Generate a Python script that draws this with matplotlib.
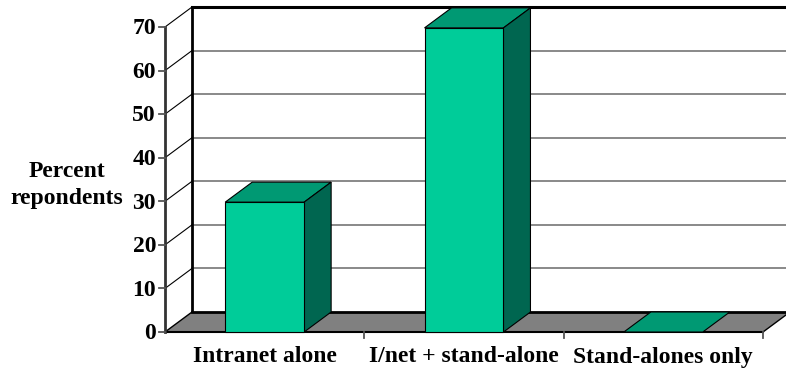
import matplotlib
matplotlib.use("Agg")
import matplotlib.pyplot as plt
from matplotlib.patches import Polygon

categories = ["Intranet alone", "I/net + stand-alone", "Stand-alones only"]
values = [29.8, 69.8, 0.0]
y_ticks = [0, 10, 20, 30, 40, 50, 60, 70]
y_label = "Percent\nrepondents"

# style / geometry
W, H = 786, 375
x0_px, xunit_px = 165.0, 199.33
y0_px, yunit_px = 332.0, 4.357
DX = 27 / xunit_px      # depth offset in x data units
DY = 20 / yunit_px      # depth offset in y data units
bar_half = 0.198
front_c = "#00CC99"
top_c = "#009973"
side_c = "#006650"
floor_c = "#808080"
grid_c = "#808080"
font = ["Liberation Serif", "DejaVu Serif"]
fs = 17

fig = plt.figure(figsize=(W / 100, H / 100), dpi=100)
ax = fig.add_axes([0, 0, 1, 1])
ax.set_xlim(-x0_px / xunit_px, (W - x0_px) / xunit_px)
ax.set_ylim((y0_px - H) / yunit_px, y0_px / yunit_px)
ax.axis("off")

ymax = max(y_ticks)
n = len(categories)
xr = n + DX

# back wall gridlines
for t in y_ticks[1:-1]:
    ax.plot([DX, xr], [t + DY, t + DY], color=grid_c, lw=1.3, zorder=1)
ax.plot([DX, xr], [ymax + DY, ymax + DY], color="black", lw=2.2, zorder=1)
ax.plot([DX, DX], [DY, ymax + DY], color="black", lw=2.0, zorder=1)

# side wall diagonals
for t in y_ticks[1:]:
    ax.plot([0, DX], [t, t + DY], color="black", lw=0.8, zorder=1)

# floor
floor = Polygon([(0, 0), (n, 0), (n + DX, DY), (DX, DY)], closed=True,
                facecolor=floor_c, edgecolor="none", zorder=2)
ax.add_patch(floor)
ax.plot([0, DX], [0, DY], color="black", lw=1.0, zorder=2)
ax.plot([DX, n + DX], [DY, DY], color="black", lw=2.0, zorder=2)
ax.plot([0, n], [0, 0], color="black", lw=1.5, zorder=2)
ax.plot([n, n + DX], [0, DY], color="black", lw=1.0, zorder=2)

# front vertical axis and ticks
ax.plot([0, 0], [0, ymax], color="#333333", lw=2.0, zorder=3)
tick_len = 6 / xunit_px
for t in y_ticks:
    ax.plot([-tick_len, 0], [t, t], color="#555555", lw=1.3, zorder=3)
    ax.text(-9 / xunit_px, t - 0.4, str(t), ha="right", va="center", fontsize=fs,
            fontweight="bold", family=font)

# category ticks
for i in range(1, n + 1):
    ax.plot([i, i], [0, -6 / yunit_px], color="#555555", lw=1.3, zorder=3)

# bars
for i, v in enumerate(values):
    c = i + 0.5
    l, r = c - bar_half, c + bar_half
    front = Polygon([(l, 0), (r, 0), (r, v), (l, v)], closed=True,
                    facecolor=front_c, edgecolor="black", lw=0.8, zorder=5)
    top = Polygon([(l, v), (r, v), (r + DX, v + DY), (l + DX, v + DY)], closed=True,
                  facecolor=top_c, edgecolor="black", lw=0.8, zorder=5)
    ax.add_patch(top)
    if v > 0:
        side = Polygon([(r, 0), (r + DX, DY), (r + DX, v + DY), (r, v)], closed=True,
                       facecolor=side_c, edgecolor="black", lw=0.8, zorder=5)
        ax.add_patch(side)
        ax.add_patch(front)
    ax.text(c, -25 / yunit_px, categories[i], ha="center", va="center",
            fontsize=fs, fontweight="bold", family=font)

ax.text(-98 / xunit_px, (y0_px - 185) / yunit_px, y_label, ha="center", va="center",
        fontsize=fs, fontweight="bold", family=font, linespacing=1.4)

fig.savefig("out.png", dpi=100)
